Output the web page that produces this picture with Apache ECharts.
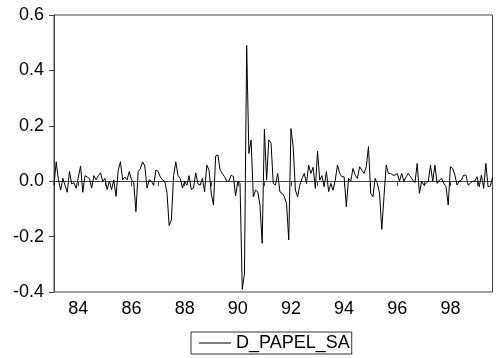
<!DOCTYPE html>
<html>
<head>
<meta charset="utf-8">
<script src="https://cdn.jsdelivr.net/npm/echarts@6/dist/echarts.min.js"></script>
<style>
html,body{margin:0;padding:0;background:#fff;}
#chart{width:497px;height:358px;}
</style>
</head>
<body>
<div id="chart"></div>
<script>
// Monthly series D_PAPEL_SA, 1983M02 .. 1999M08
var startYear = 1983, startMonth = 2;
var seriesName = 'D_PAPEL_SA';
var yTicks = [-0.4, -0.2, 0.0, 0.2, 0.4, 0.6];
var xTickLabels = ['84', '86', '88', '90', '92', '94', '96', '98'];

// 1983M02 - 1987M12
var values1983_1987 = [
  -0.014, 0.07, 0.005, -0.032, 0.01, -0.015, -0.04, 0.035, -0.01, -0.005, -0.025,
  0.015, 0.055, -0.04, 0.02, 0.015, 0.01, -0.025, 0.02, 0.005, 0.02, 0.03, 0.0,
  0.01, -0.03, 0.0, -0.03, 0.005, -0.055, 0.04, 0.07, 0.005, 0.015, 0.005, 0.035,
  0.005, -0.005, -0.11, 0.035, 0.045, 0.07, 0.055, -0.025, 0.005, 0.0, -0.015, 0.04,
  0.035, 0.015, 0.005, 0.0, -0.04, -0.16, -0.14, 0.02, 0.07, 0.02, 0.01, -0.025
];
// 1988M01 - 1991M12
var values1988_1991 = [
  0.0, -0.015, 0.02, -0.03, -0.025, 0.03, -0.01, -0.014, 0.01, -0.038, 0.058, 0.04,
  -0.044, -0.086, 0.091, 0.095, 0.04, 0.028, 0.016, 0.0, 0.0, 0.022, 0.016, -0.053,
  0.0, -0.008, -0.39, -0.335, 0.49, 0.1, 0.149, -0.056, -0.032, -0.038, -0.086, -0.224,
  0.188, 0.004, 0.149, 0.137, -0.008, -0.014, 0.028, -0.038, -0.044, -0.056, -0.08, -0.212
];
// 1992M01 - 1995M12
var values1992_1995 = [
  0.19, 0.125, -0.032, -0.056, -0.014, 0.01, 0.028, -0.008, 0.058, 0.028, 0.05, -0.026,
  0.109, 0.004, 0.02, -0.02, 0.035, -0.038, -0.008, -0.032, 0.004, 0.058, 0.028, 0.016,
  0.016, -0.092, 0.01, 0.0, 0.046, 0.022, 0.01, 0.052, 0.04, 0.028, 0.052, 0.125,
  -0.044, -0.056, 0.01, -0.008, -0.044, -0.174, -0.056, 0.058, 0.028, 0.028, 0.022, 0.022
];
// 1996M01 - 1999M08
var values1996_1999 = [
  0.028, 0.0, 0.028, 0.0, 0.016, 0.028, 0.016, 0.004, -0.005, 0.064, -0.044, 0.0,
  -0.014, -0.008, 0.0, 0.058, 0.0, 0.058, -0.008, 0.004, 0.01, -0.008, -0.02, -0.086,
  0.052, 0.046, 0.022, -0.014, 0.0, 0.004, 0.022, 0.022, -0.014, -0.008, 0.0, 0.0,
  0.016, -0.02, 0.022, -0.026, 0.064, -0.02, -0.018, 0.014
];

var values = values1983_1987.concat(values1988_1991, values1992_1995, values1996_1999);

var categories = [];
(function () {
  var y = startYear, m = startMonth;
  for (var i = 0; i < values.length; i++) {
    categories.push(y + 'M' + (m < 10 ? '0' + m : m));
    m++;
    if (m > 12) { m = 1; y++; }
  }
})();

function isJan(v) { return v.slice(-3) === 'M01'; }
function yy(v) { return v.slice(2, 4); }

var FONT = 'Arial, "Liberation Sans", sans-serif';
var FS = 18;
var AX = '#444';

var chart = echarts.init(document.getElementById('chart'), null, {renderer: 'canvas'});
chart.setOption({
  animation: false,
  backgroundColor: '#ffffff',
  grid: {
    left: 54, right: 4.5, top: 15, bottom: 66,
    show: true, borderColor: AX, borderWidth: 1, backgroundColor: 'transparent',
    containLabel: false
  },
  xAxis: {
    type: 'category',
    data: categories,
    boundaryGap: false,
    axisLine: {show: true, lineStyle: {color: AX, width: 1}},
    axisTick: {
      show: true, length: 5, inside: false,
      interval: function (idx, v) { return isJan(v); },
      lineStyle: {color: AX, width: 1}
    },
    axisLabel: {
      show: true, margin: 8,
      interval: function (idx, v) { return isJan(v) && xTickLabels.indexOf(yy(v)) >= 0; },
      formatter: function (v) { return yy(v); },
      color: '#000', fontFamily: FONT, fontSize: FS
    },
    splitLine: {show: false}
  },
  yAxis: {
    type: 'value',
    min: yTicks[0], max: yTicks[yTicks.length - 1], interval: 0.2,
    axisLine: {show: true, lineStyle: {color: AX, width: 1}},
    axisTick: {show: true, length: 5, inside: false, lineStyle: {color: AX, width: 1}},
    axisLabel: {
      margin: 10,
      formatter: function (v) { return (Math.abs(v) < 1e-9 ? 0 : v).toFixed(1); },
      color: '#000', fontFamily: FONT, fontSize: FS
    },
    splitLine: {show: false}
  },
  legend: {
    show: true,
    data: [{name: seriesName, icon: 'rect'}],
    left: 191,
    bottom: 4,
    orient: 'horizontal',
    itemWidth: 32,
    itemHeight: 1,
    itemGap: 5,
    padding: [2, 2, 2, 8],
    borderColor: '#333',
    borderWidth: 1,
    borderRadius: 0,
    backgroundColor: '#fff',
    textStyle: {color: '#000', fontFamily: FONT, fontSize: FS, lineHeight: 18},
    itemStyle: {color: '#000'}
  },
  series: [{
    name: seriesName,
    type: 'line',
    data: values,
    showSymbol: false,
    symbol: 'none',
    smooth: false,
    lineStyle: {color: '#000', width: 1},
    itemStyle: {color: '#000'},
    emphasis: {disabled: true}
  }]
});
</script>
</body>
</html>
